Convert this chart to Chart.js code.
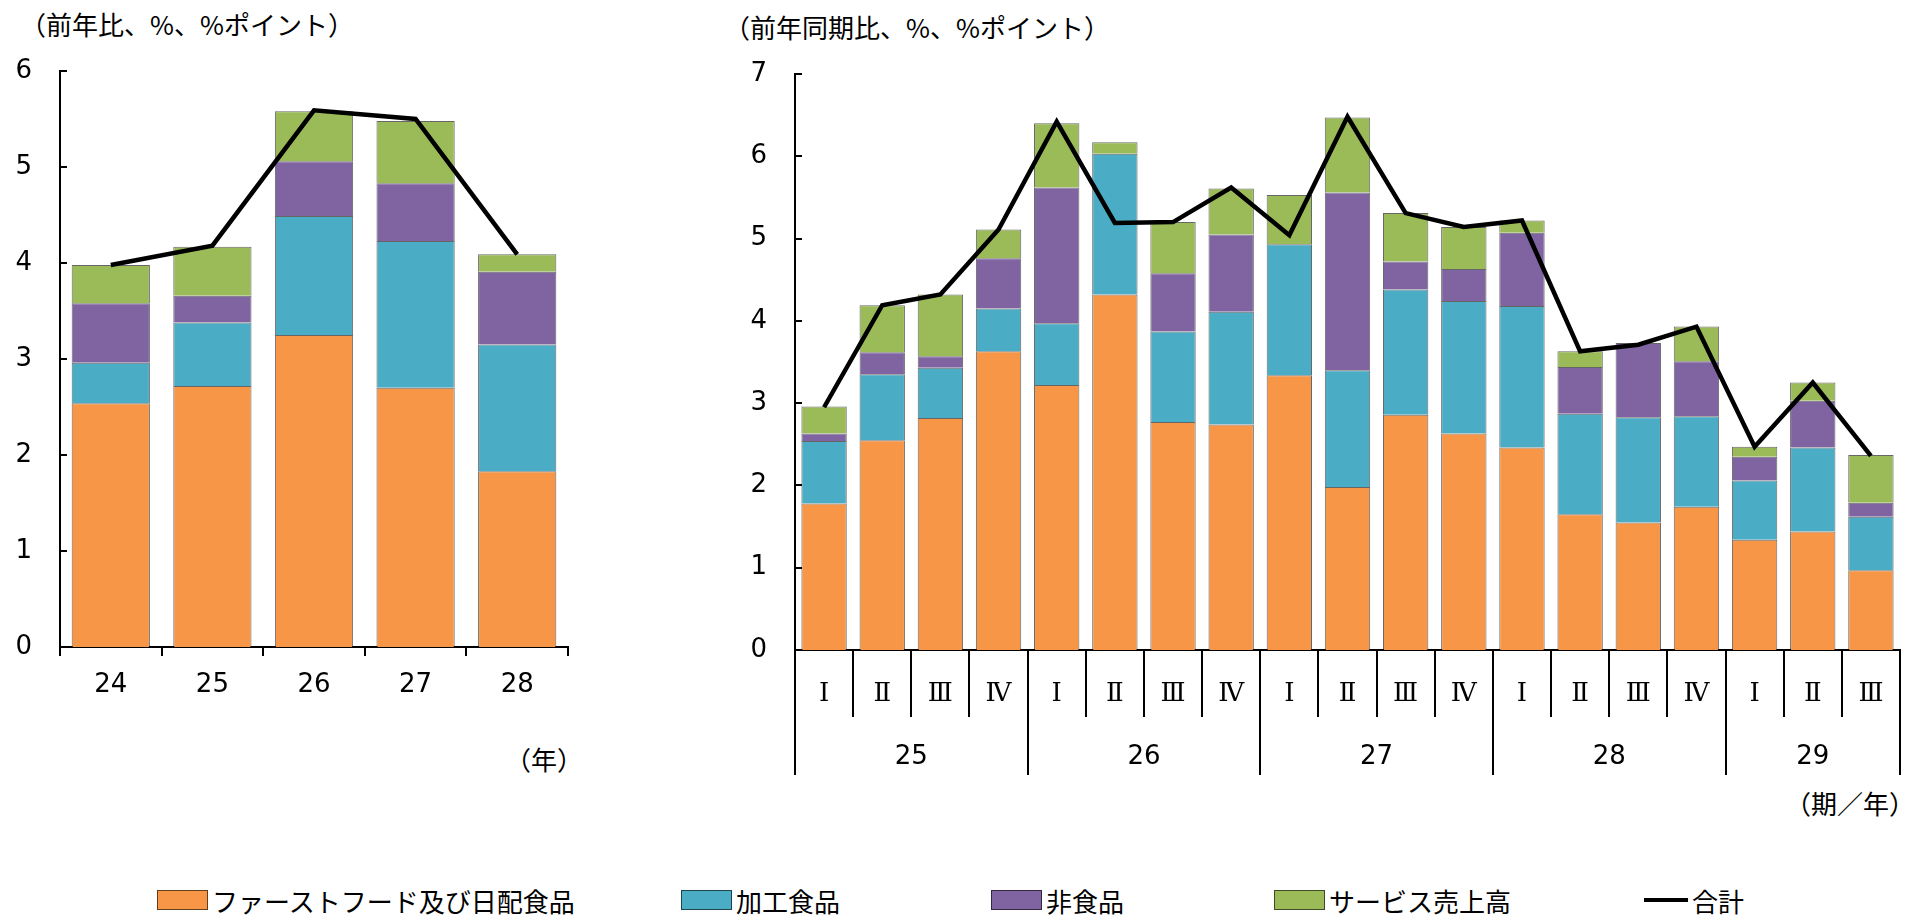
<!DOCTYPE html>
<html lang="ja">
<head>
<meta charset="UTF-8">
<title>売上高の寄与度</title>
<script src="https://cdn.jsdelivr.net/npm/chart.js"></script>
<style>
  body { margin: 0; background: #fff; width: 1919px; height: 915px; overflow: hidden; position: relative;
         font-family: "Noto Sans CJK JP", sans-serif; color: #000; }
  .lbl { position: absolute; font-size: 26px; line-height: 30px; white-space: nowrap; }
  #cvYear { position: absolute; left: 0; top: 0; }
  #cvQtr { position: absolute; left: 700px; top: 0; }
  .leg { position: absolute; top: 885px; height: 30px; display: flex; align-items: center; font-size: 26px; white-space: nowrap; }
  .leg .box { width: 51px; height: 20px; border: 1px solid rgba(0,0,0,0.6); box-sizing: border-box; margin-right: 4px; }
  .leg .ln { width: 44px; height: 4px; background: #000; margin-right: 4px; }
</style>
</head>
<body>

<div class="lbl" style="left:20px; top:9px;">（前年比、%、%ポイント）</div>
<div class="lbl" style="left:724px; top:12px;">（前年同期比、%、%ポイント）</div>
<div class="lbl" style="right:1336px; top:744px;">（年）</div>
<div class="lbl" style="right:4px; top:788px;">（期／年）</div>

<canvas id="cvYear" width="620" height="800"></canvas>
<canvas id="cvQtr" width="1219" height="800"></canvas>

<div id="legend"></div>

<script>
  // 系列名と色
  var seriesNames = ['ファーストフード及び日配食品', '加工食品', '非食品', 'サービス売上高'];
  var seriesColors = ['#F79646', '#4BACC6', '#8064A2', '#9BBB59'];
  var totalName = '合計';

  // 年次（前年比）
  var yearLabels = ['24', '25', '26', '27', '28'];
  var yearFast = [2.54, 2.72, 3.25, 2.70, 1.83];
  var yearProc = [0.42, 0.66, 1.24, 1.53, 1.32];
  var yearNonFood = [0.62, 0.28, 0.57, 0.60, 0.76];
  var yearService = [0.40, 0.51, 0.52, 0.65, 0.18];
  var yearTotal = [3.98, 4.18, 5.59, 5.50, 4.09];

  // 四半期（前年同期比）
  var qtrLabels = ['Ⅰ', 'Ⅱ', 'Ⅲ', 'Ⅳ', 'Ⅰ', 'Ⅱ', 'Ⅲ', 'Ⅳ', 'Ⅰ', 'Ⅱ', 'Ⅲ', 'Ⅳ', 'Ⅰ', 'Ⅱ', 'Ⅲ', 'Ⅳ', 'Ⅰ', 'Ⅱ', 'Ⅲ'];
  var qtrYears = ['25', '25', '25', '25', '26', '26', '26', '26', '27', '27', '27', '27', '28', '28', '28', '28', '29', '29', '29'];
  var qtrFast = [1.78, 2.55, 2.82, 3.63, 3.22, 4.32, 2.77, 2.74, 3.34, 1.98, 2.86, 2.63, 2.46, 1.65, 1.55, 1.74, 1.34, 1.44, 0.97];
  var qtrProc = [0.76, 0.80, 0.61, 0.52, 0.75, 1.71, 1.10, 1.37, 1.59, 1.42, 1.52, 1.61, 1.72, 1.22, 1.28, 1.10, 0.72, 1.02, 0.65];
  var qtrNonFood = [0.09, 0.27, 0.14, 0.61, 1.65, -0.98, 0.71, 0.94, -0.48, 2.16, 0.34, 0.39, 0.89, 0.57, 0.90, 0.67, 0.29, 0.57, 0.17];
  var qtrService = [0.33, 0.57, 0.75, 0.35, 0.78, 0.14, 0.62, 0.56, 0.60, 0.91, 0.59, 0.51, 0.15, 0.19, -0.03, 0.42, 0.12, 0.22, 0.58];
  var qtrTotal = [2.95, 4.19, 4.32, 5.11, 6.42, 5.19, 5.20, 5.62, 5.04, 6.48, 5.31, 5.14, 5.22, 3.63, 3.71, 3.93, 2.47, 3.25, 2.36];

  var numFont = { family: 'DejaVu Sans', size: 26 };

  function makeDatasets(parts, total, barPct) {
    var ds = [];
    for (var i = 0; i < parts.length; i++) {
      ds.push({
        type: 'bar',
        label: seriesNames[i],
        data: parts[i],
        backgroundColor: seriesColors[i],
        borderColor: 'rgba(0,0,0,0.6)',
        borderWidth: 1,
        stack: 'parts',
        order: 1,
        barPercentage: barPct,
        categoryPercentage: 1
      });
    }
    ds.push({
      type: 'line',
      label: totalName,
      data: total,
      borderColor: '#000',
      borderWidth: 4.5,
      borderJoinStyle: 'miter',
      pointRadius: 0,
      tension: 0,
      stack: 'total',
      order: 0
    });
    return ds;
  }

  // 軸の目盛り線と区切り線
  var axisDecor = {
    id: 'axisDecor',
    afterDraw: function (chart, args, opts) {
      var ctx = chart.ctx;
      var xs = chart.scales.x;
      var ys = chart.scales.y;
      var area = chart.chartArea;
      ctx.save();
      ctx.strokeStyle = '#000';
      ctx.lineWidth = 2;
      ctx.beginPath();
      ys.ticks.forEach(function (t) {
        var py = Math.round(ys.getPixelForValue(t.value));
        ctx.moveTo(area.left, py);
        ctx.lineTo(area.left + 7, py);
      });
      var n = chart.data.labels.length;
      var groups = opts.groups;
      for (var i = 0; i <= n; i++) {
        var px = Math.round(xs.getPixelForValue(i - 0.5));
        var len = opts.tickLen;
        if (groups && (i === 0 || i === n || groups[i] !== groups[i - 1])) {
          len = opts.groupLen;
        }
        ctx.moveTo(px, area.bottom);
        ctx.lineTo(px, area.bottom + len);
      }
      ctx.stroke();
      if (groups) {
        ctx.fillStyle = '#000';
        ctx.font = '26px "DejaVu Sans"';
        ctx.textAlign = 'center';
        ctx.textBaseline = 'middle';
        var start = 0;
        for (var j = 1; j <= n; j++) {
          if (j === n || groups[j] !== groups[start]) {
            var cx = (xs.getPixelForValue(start - 0.5) + xs.getPixelForValue(j - 0.5)) / 2;
            ctx.fillText(groups[start], cx, area.bottom + opts.groupLabelY);
            start = j;
          }
        }
      }
      ctx.restore();
    }
  };

  function makeOptions(cfg) {
    return {
      responsive: false,
      animation: false,
      layout: { padding: cfg.padding },
      plugins: {
        legend: { display: false },
        tooltip: { enabled: false },
        axisDecor: cfg.decor
      },
      scales: {
        x: {
          stacked: true,
          grid: { display: false, drawTicks: false },
          border: { display: true, color: '#000', width: 2 },
          ticks: { color: '#000', font: cfg.xFont, padding: cfg.xPad, autoSkip: false, maxRotation: 0 },
          afterFit: function (s) { s.height = cfg.xHeight; }
        },
        y: {
          stacked: true,
          min: 0,
          max: cfg.yMax,
          grid: { display: false, drawTicks: false },
          border: { display: true, color: '#000', width: 2 },
          ticks: { stepSize: 1, color: '#000', font: numFont, padding: 28 },
          afterFit: function (s) { s.width = cfg.yWidth; }
        }
      }
    };
  }

  new Chart(document.getElementById('cvYear').getContext('2d'), {
    data: {
      labels: yearLabels,
      datasets: makeDatasets([yearFast, yearProc, yearNonFood, yearService], yearTotal, 0.77)
    },
    options: makeOptions({
      padding: { left: 0, top: 71, right: 52, bottom: 0 },
      yWidth: 60,
      xHeight: 153,
      yMax: 6,
      xFont: numFont,
      xPad: 23,
      decor: { tickLen: 9 }
    }),
    plugins: [axisDecor]
  });

  new Chart(document.getElementById('cvQtr').getContext('2d'), {
    data: {
      labels: qtrLabels,
      datasets: makeDatasets([qtrFast, qtrProc, qtrNonFood, qtrService], qtrTotal, 0.78)
    },
    options: makeOptions({
      padding: { left: 0, top: 74, right: 19, bottom: 0 },
      yWidth: 95,
      xHeight: 150,
      yMax: 7,
      xFont: { family: 'DejaVu Serif', size: 26 },
      xPad: 29,
      decor: { tickLen: 67, groupLen: 125, groups: qtrYears, groupLabelY: 107 }
    }),
    plugins: [axisDecor]
  });

  // 凡例
  var legendX = [157, 681, 991, 1274, 1644];
  var legend = document.getElementById('legend');
  for (var k = 0; k <= seriesNames.length; k++) {
    var item = document.createElement('div');
    item.className = 'leg';
    item.style.left = legendX[k] + 'px';
    var mark = document.createElement('span');
    if (k < seriesNames.length) {
      mark.className = 'box';
      mark.style.background = seriesColors[k];
    } else {
      mark.className = 'ln';
    }
    item.appendChild(mark);
    item.appendChild(document.createTextNode(k < seriesNames.length ? seriesNames[k] : totalName));
    legend.appendChild(item);
  }
</script>
</body>
</html>
